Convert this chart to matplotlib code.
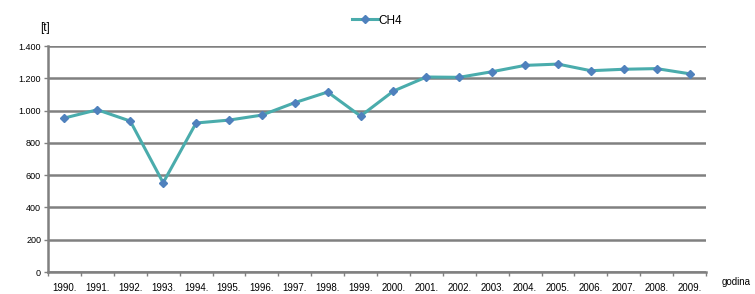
import matplotlib
matplotlib.use('Agg')
import matplotlib.pyplot as plt
from matplotlib.ticker import FuncFormatter, FixedLocator

plt.rcParams['font.family'] = ['Liberation Sans', 'DejaVu Sans']

# podaci
years = ['1990.', '1991.', '1992.', '1993.', '1994.', '1995.', '1996.', '1997.', '1998.', '1999.',
         '2000.', '2001.', '2002.', '2003.', '2004.', '2005.', '2006.', '2007.', '2008.', '2009.']
ch4 = [954, 1005, 935, 553, 923, 941, 972, 1049, 1115, 966,
       1121, 1208, 1206, 1241, 1280, 1288, 1247, 1256, 1260, 1228]
y_ticks = [0, 200, 400, 600, 800, 1000, 1200, 1400]

fig = plt.figure(figsize=(7.55, 2.94), dpi=100)
ax = fig.add_axes([0.0636, 0.0748, 0.8715, 0.7687])

x = list(range(len(years)))
ax.plot(x, ch4, color='#4aacac', lw=2.2, marker='D', markersize=4.5,
        markerfacecolor='#4f81bd', markeredgecolor='#4f81bd', label='CH4')

ax.set_xlim(-0.5, len(years) - 0.5)
ax.set_ylim(0, 1400)
ax.set_yticks(y_ticks)
ax.yaxis.set_major_formatter(FuncFormatter(lambda v, p: f'{int(v):,}'.replace(',', '.')))
ax.grid(axis='y', color='#808080', lw=1.8)
ax.set_axisbelow(True)

ax.set_xticks(x)
ax.set_xticklabels(years)
ax.xaxis.set_minor_locator(FixedLocator([i - 0.5 for i in range(len(years) + 1)]))
ax.tick_params(axis='x', which='major', length=0, labelsize=7, pad=8)
ax.tick_params(axis='x', which='minor', length=3, color='#808080', width=1)
ax.tick_params(axis='y', length=3, color='#808080', width=1, labelsize=6.5, pad=2)

for s in ['top', 'right']:
    ax.spines[s].set_visible(False)
for s in ['left', 'bottom']:
    ax.spines[s].set_color('#808080')
    ax.spines[s].set_linewidth(1.8)

fig.text(0.06, 0.905, '[t]', fontsize=8.5, ha='center', va='center')
fig.text(0.975, 0.04, 'godina', fontsize=7, ha='center', va='center')

ax.legend(loc='lower center', bbox_to_anchor=(0.5, 1.06), frameon=False, fontsize=8.5,
          handlelength=2.2, handletextpad=0.1, borderpad=0)

plt.savefig('out.png', dpi=100)
